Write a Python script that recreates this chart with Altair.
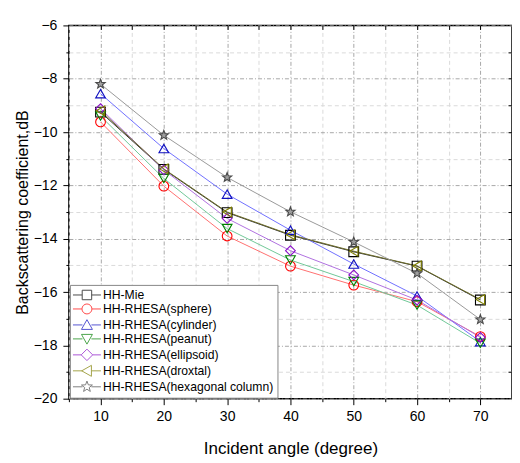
import altair as alt
import pandas as pd
import math

angles = [10, 20, 30, 40, 50, 60, 70]
series_names = ["HH-Mie", "HH-RHESA(sphere)", "HH-RHESA(cylinder)", "HH-RHESA(peanut)",
                "HH-RHESA(ellipsoid)", "HH-RHESA(droxtal)", "HH-RHESA(hexagonal column)"]
mie = [-9.25, -11.40, -13.02, -13.87, -14.49, -15.03, -16.30]
sphere = [-9.62, -12.03, -13.90, -15.03, -15.74, -16.36, -17.67]
cylinder = [-8.56, -10.62, -12.33, -13.68, -14.95, -16.15, -17.86]
peanut = [-9.40, -11.74, -13.62, -14.80, -15.61, -16.49, -17.92]
ellipsoid = [-9.12, -11.42, -13.24, -14.45, -15.36, -16.30, -17.70]
droxtal = [-9.20, -11.38, -13.00, -13.85, -14.47, -15.02, -16.28]
hexcol = [-8.20, -10.12, -11.70, -12.99, -14.12, -15.30, -17.03]
all_values = [mie, sphere, cylinder, peanut, ellipsoid, droxtal, hexcol]

rows = []
for name, vals in zip(series_names, all_values):
    for a, v in zip(angles, vals):
        rows.append({"angle": a, "value": v, "series": name})
df = pd.DataFrame(rows)

marker_colors = ["#000000", "#ff0000", "#1010c0", "#008000", "#8a10c8", "#808000", "#4a4a4a"]
line_colors = ["#333333", "#ff7070", "#7070ff", "#70c898", "#b070e0", "#6e6e2a", "#9a9a9a"]
fill_colors = ["transparent"] * 6 + ["#a0a0a0"]

def star_path(r_out, r_in):
    pts = []
    for i in range(10):
        r = r_out if i % 2 == 0 else r_in
        ang = -math.pi / 2 + i * math.pi / 5
        pts.append(f"{r*math.cos(ang):.3f},{r*math.sin(ang):.3f}")
    return "M" + "L".join(pts) + "Z"

plot_shapes = ["square", "circle", "triangle-up", "triangle-down", "diamond", "triangle-left",
               star_path(1.0, 0.42)]

L = 2.8  # legend line half length in symbol units (symbol units = 5 px)

def with_line(p, r):
    return f"M-{L},0H-{r}M{r},0H{L}" + p

legend_shapes = [
    with_line("M-0.95,-0.95H0.95V0.95H-0.95Z", 0.95),
    with_line("M1,0A1,1 0 1,1 -1,0A1,1 0 1,1 1,0Z", 1),
    with_line("M0,-1.05L1.1,0.9L-1.1,0.9Z", 0.9),
    with_line("M0,1.05L1.1,-0.9L-1.1,-0.9Z", 0.9),
    with_line("M0,-1.15L1.15,0L0,1.15L-1.15,0Z", 1.15),
    with_line("M-1.05,0L0.9,-1.1L0.9,1.1Z", 0.9),
    with_line(star_path(1.15, 0.48), 0.9),
]

x_grid_vals = [5, 10, 15, 20, 25, 30, 35, 40, 45, 50, 55, 60, 65, 70, 75]
y_grid_vals = list(range(-20, -5))

FONT = "Liberation Sans"
xscale = alt.Scale(domain=[5, 75], nice=False)
yscale = alt.Scale(domain=[-20, -6], nice=False)

x_bottom = alt.Axis(
    orient="bottom", values=x_grid_vals, title="Incident angle (degree)",
    labelExpr="datum.value % 10 == 0 && datum.value > 5 && datum.value < 75 ? datum.label : ''",
    tickSize={"condition": {"test": "datum.value % 10 == 0", "value": 6}, "value": 3},
    grid=True,
    gridColor={"condition": {"test": "datum.value % 10 == 0", "value": "#a8a8a8"}, "value": "#dadada"},
    gridDash={"condition": {"test": "datum.value % 10 == 0", "value": [4, 2, 1, 2]}, "value": [4, 3]},
    domain=False, tickColor="#000", labelPadding=5, titlePadding=17,
)
y_left = alt.Axis(
    orient="left", values=y_grid_vals, title="Backscattering coefficient,dB",
    labelExpr="datum.value % 2 == 0 ? datum.label : ''",
    tickSize={"condition": {"test": "datum.value % 2 == 0", "value": 6}, "value": 3},
    grid=True,
    gridColor={"condition": {"test": "datum.value % 2 == 0", "value": "#a8a8a8"}, "value": "#dadada"},
    gridDash={"condition": {"test": "datum.value % 2 == 0", "value": [4, 2, 1, 2]}, "value": [4, 3]},
    domain=False, tickColor="#000", labelPadding=6, titlePadding=3,
)
x_top = alt.Axis(orient="top", values=x_grid_vals[1:-1], labels=False, title=None, grid=False,
                 domain=False, tickSize=4, offset=-4, tickColor="#000")
y_right = alt.Axis(orient="right", values=y_grid_vals[1:-1], labels=False, title=None, grid=False,
                   domain=False, tickSize=4, offset=-4, tickColor="#000")

lines = alt.Chart(df).mark_line(strokeWidth=1).encode(
    x=alt.X("angle:Q", scale=xscale, axis=x_bottom),
    y=alt.Y("value:Q", scale=yscale, axis=y_left),
    color=alt.Color("series:N", scale=alt.Scale(domain=series_names, range=line_colors), legend=None),
    order="angle:Q",
)

points = alt.Chart(df).mark_point(size=95, strokeWidth=1.1, opacity=1).encode(
    x=alt.X("angle:Q", scale=xscale, axis=x_top),
    y=alt.Y("value:Q", scale=yscale, axis=y_right),
    stroke=alt.Stroke("series:N", scale=alt.Scale(domain=series_names, range=marker_colors), legend=None),
    fill=alt.Fill("series:N", scale=alt.Scale(domain=series_names, range=fill_colors), legend=None),
    shape=alt.Shape("series:N", scale=alt.Scale(domain=series_names, range=plot_shapes), legend=None),
)

legend_layer = alt.Chart(df).transform_filter("datum.angle < 0").mark_point(filled=False).encode(
    x=alt.X("angle:Q", scale=xscale, axis=None),
    y=alt.Y("value:Q", scale=yscale, axis=None),
    color=alt.Color("series:N", scale=alt.Scale(domain=series_names, range=marker_colors),
                    legend=alt.Legend(title=None, orient="bottom-left")),
    shape=alt.Shape("series:N", scale=alt.Scale(domain=series_names, range=legend_shapes),
                    legend=alt.Legend(title=None, orient="bottom-left")),
)

chart = alt.layer(lines, points, legend_layer).resolve_scale(
    color="independent", shape="independent"
).resolve_axis(
    x="independent", y="independent"
).resolve_legend(
    color="independent", shape="independent"
).properties(
    width=444, height=374,
    autosize=alt.AutoSizeParams(type="none"),
    padding={"left": 61, "top": 17, "right": 0, "bottom": 64},
).configure_view(
    stroke="#000000", strokeWidth=1.5
).configure_axis(
    labelFont=FONT, titleFont=FONT, labelFontSize=14, labelColor="#000",
    titleFontWeight="normal", titleColor="#000", tickWidth=1,
).configure_axisX(titleFontSize=17).configure_axisY(titleFontSize=16).configure_legend(
    labelFont=FONT, labelFontSize=12.2, labelColor="#000", labelLimit=400,
    symbolSize=100, symbolStrokeWidth=1, symbolFillColor="transparent",
    strokeColor="#888888", fillColor="#ffffff", padding=4, offset=1,
    rowPadding=0, labelOffset=10, symbolOffset=7, cornerRadius=0,
)

chart.save("out.html", embed_options={"renderer": "svg", "actions": False})
